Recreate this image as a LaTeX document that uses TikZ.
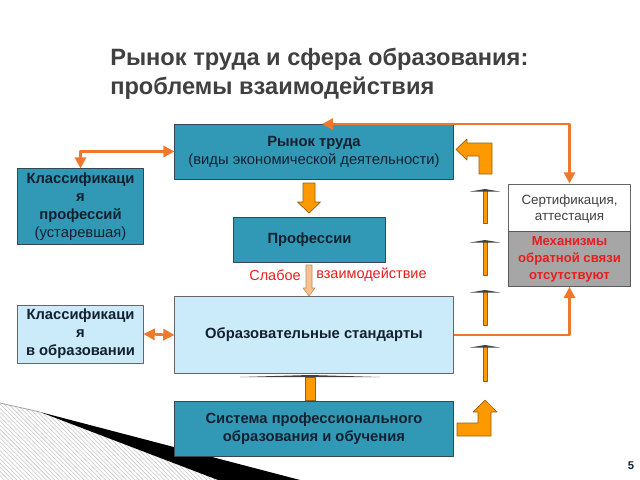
\documentclass[tikz,border=0pt]{standalone}
\usepackage{fontspec}
\setmainfont{Liberation Sans}
\usepackage{xcolor}
\usetikzlibrary{positioning,calc,arrows.meta,patterns}

\definecolor{tealbox}{RGB}{49,153,181}
\definecolor{lightbox}{RGB}{204,235,250}
\definecolor{boxline}{RGB}{55,70,85}
\definecolor{navytext}{RGB}{18,32,48}
\definecolor{titlegray}{RGB}{64,64,64}
\definecolor{linkorange}{RGB}{240,120,45}
\definecolor{fatorange}{RGB}{255,153,0}
\definecolor{fatedge}{RGB}{150,95,20}
\definecolor{peach}{RGB}{250,192,144}
\definecolor{alertred}{RGB}{230,30,30}
\definecolor{mechgray}{RGB}{166,166,166}

\begin{document}
\begin{tikzpicture}[x=0.025cm, y=-0.025cm, line join=round,
    font=\fontsize{10.5}{12.8}\selectfont,
    >={Triangle[length=2.8mm,width=2.8mm]}]
				\useasboundingbox (0,0) rectangle (640,480);
				
				% ---- kiểu dáng ----
				\tikzset{darkbox/.style={draw=boxline, line width=0.7pt, fill=tealbox,
						text=navytext, align=center, inner sep=1pt},
					palebox/.style={draw=gray!80!black, line width=0.7pt, fill=lightbox,
						text=navytext, align=center, inner sep=1pt},
					link/.style={draw=linkorange, line width=1.9pt},
					fat/.style={fill=fatorange, draw=fatedge, line width=0.5pt},
					flathead/.style={fill=black!75, draw=none}}
				
				% ---- trang trí góc dưới trái ----
				\fill[pattern=north west lines, pattern color=gray!45]
				(0,403) -- (40,412) -- (218,480) -- (0,480) -- cycle;
				\draw[gray!70, line width=0.6pt] (0,403) -- (40,412);
				\fill[black] (40,412) -- (300,480) -- (218,480) -- cycle;
				
				% ---- tiêu đề ----
				\node[anchor=north west, align=left, text=titlegray, inner sep=0pt,
				font=\fontsize{16.8}{20.5}\selectfont\bfseries] (title) at (110,48)
				{Рынок труда и сфера образования:\\проблемы взаимодействия};
				
				% ---- các khối ----
				\node[darkbox, minimum width=6.95cm, minimum height=1.375cm] (rynok) at (314,151.5)
				{\textbf{Рынок труда}\\(виды экономической деятельности)};
				\node[darkbox, minimum width=3.125cm, minimum height=1.875cm] (klprof) at (80.5,206.5)
				{\textbf{Классификаци}\\\textbf{я}\\\textbf{профессий}\\(устаревшая)};
				\node[darkbox, minimum width=3.775cm, minimum height=1.125cm] (prof) at (309.5,239.5)
				{\textbf{Профессии}};
				\node[palebox, minimum width=6.95cm, minimum height=1.9cm] (std) at (314,335)
				{\textbf{Образовательные стандарты}};
				\node[palebox, minimum width=3.125cm, minimum height=1.45cm] (klobr) at (80.5,334)
				{\textbf{Классификаци}\\\textbf{я}\\\textbf{в образовании}};
				\node[darkbox, minimum width=6.95cm, minimum height=1.375cm] (sys) at (314,428.5)
				{\textbf{Система профессионального}\\\textbf{образования и обучения}};
				\node[draw=gray!80!black, line width=0.7pt, fill=white, text=titlegray, align=center,
				minimum width=3.025cm, minimum height=1.25cm, font=\fontsize{9.5}{12}\selectfont]
				(cert) at (569.5,209) {Сертификация,\\аттестация};
				\node[draw=gray!70!black, line width=0.7pt, fill=mechgray, text=alertred, align=center,
				minimum width=3.025cm, minimum height=1.25cm, font=\fontsize{9.3}{12}\selectfont\bfseries]
				(mech) at (569.5,259) {Механизмы\\обратной связи\\отсутствуют};
				
				% ---- chữ đỏ ----
				\node[anchor=east, text=alertred, inner sep=0pt, font=\fontsize{10.3}{12}\selectfont]
				(weakA) at (301,275) {Слабое};
				\node[anchor=west, text=alertred, inner sep=0pt, font=\fontsize{10.3}{12}\selectfont]
				(weakB) at (316,275) {взаимодействие};
				
				% ---- đường nối màu cam ----
				\coordinate (toptip) at (322,124);
				\draw[link, <->] (rynok.west) -| (klprof.north);
				\draw[link, <->] (cert.north) |- (toptip);
				\draw[link, ->] (std.east) -| (mech.south);
				\draw[link, <->] (klobr.east) -- (std.west);
				
				% ---- mũi tên đậm ----
				\draw[fat] (303,183) -- (315,183) -- (315,202) -- (320.5,202) -- (309,213)
				-- (297.5,202) -- (303,202) -- cycle;
				\draw[fill=peach, draw=fatedge!70, line width=0.4pt] (306,265) -- (312,265) -- (312,288)
				-- (315,288) -- (309,296) -- (303,288) -- (306,288) -- cycle;
				\draw[fat] (456,149.5) -- (467,139) -- (467,143) -- (492,143) -- (492,174)
				-- (479,174) -- (479,156) -- (467,156) -- (467,160) -- cycle;
				\draw[fat] (457,423) -- (478,423) -- (478,412) -- (473,412) -- (485,400)
				-- (497,412) -- (491,412) -- (491,436) -- (457,436) -- cycle;
				
				% ---- mũi tên dẹt ----
				\draw[fat] (305,377) rectangle (315,400);
				\fill[flathead] (240,377) -- (310,375) -- (380,377) -- cycle;
				\foreach \h/\b in {190/223, 241/275, 291/325, 346/381}{
					\draw[fat] (483,\h) rectangle (487,\b);
					\fill[flathead] (470,\h+1.5) -- (485,\h-1) -- (500,\h+1.5) -- cycle;
				}
				
				% ---- số trang ----
				\node[text=navytext, font=\fontsize{8}{9}\selectfont\bfseries] (pagenum) at (631,466) {5};
			\end{tikzpicture}
\end{document}
